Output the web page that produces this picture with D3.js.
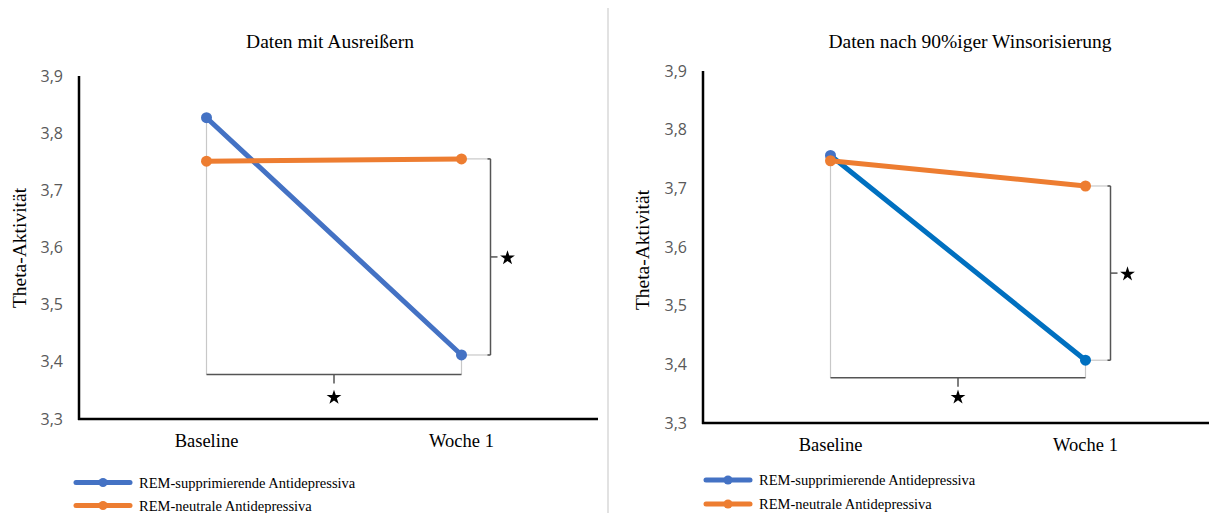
<!DOCTYPE html>
<html>
<head>
<meta charset="utf-8">
<script src="https://cdn.jsdelivr.net/npm/d3@7"></script>
<style>
  html, body { margin: 0; padding: 0; background: #fff; }
  svg { display: block; }
</style>
</head>
<body>
<svg id="chart" width="1209" height="513"></svg>
<script>
// ---------- data ----------
const categories = ["Baseline", "Woche 1"];
const yTicks = [3.3, 3.4, 3.5, 3.6, 3.7, 3.8, 3.9];
const seriesNames = ["REM-supprimierende Antidepressiva", "REM-neutrale Antidepressiva"];
const titles = ["Daten mit Ausreißern", "Daten nach 90%iger Winsorisierung"];
const yLabel = "Theta-Aktivität";

const leftSuppressive = [3.827, 3.412];
const leftNeutral = [3.751, 3.755];
const rightSuppressive = [3.756, 3.407];
const rightNeutral = [3.747, 3.704];
const bracketLevel = [3.378, 3.377];   // value level of the lower significance bracket

// ---------- layout ----------
const svg = d3.select("#chart");
const serif = "'Liberation Serif', 'Times New Roman', serif";
const sans = "'Open Sans', 'Liberation Sans', sans-serif";
const fmt = d => d.toFixed(1).replace(".", ",");

// divider
svg.append("line").attr("x1", 608).attr("x2", 608).attr("y1", 8).attr("y2", 513)
  .attr("stroke", "#d9d9d9").attr("stroke-width", 1.5);

const panels = [
  { x0: 79, xEnd: 598, yTop: 76, yBot: 419, bandRange: [79, 589],
    title: titles[0], titleX: 330, titleY: 48, yLabX: 26, yLabY: 248, xLabY: 447,
    blue: leftSuppressive, orange: leftNeutral, blueLine: "#4472C4", blueDot0: "#4472C4", blueDot1: "#4472C4",
    bracketOff: 29, lvl: bracketLevel[0], starOff: 23,
    legX: 76, legLineW: 54, legY: [482.5, 505.5], legTextX: 139 },
  { x0: 703, xEnd: 1209, yTop: 71, yBot: 423, bandRange: [703, 1213],
    title: titles[1], titleX: 970, titleY: 48, yLabX: 649, yLabY: 250, xLabY: 451,
    blue: rightSuppressive, orange: rightNeutral, blueLine: "#0070C0", blueDot0: "#4472C4", blueDot1: "#0070C0",
    bracketOff: 25, lvl: bracketLevel[1], starOff: 19.5,
    legX: 706, legLineW: 44, legY: [480, 504], legTextX: 759 }
];

const orangeC = "#ED7D31";
const legendBlue = "#4472C4";

panels.forEach(p => {
  const g = svg.append("g");
  const x = d3.scaleBand().domain(categories).range(p.bandRange);
  const cx = c => x(c) + x.bandwidth() / 2;
  const y = d3.scaleLinear().domain([3.3, 3.9]).range([p.yBot, p.yTop]);

  // title
  g.append("text").attr("x", p.titleX).attr("y", p.titleY).attr("text-anchor", "middle")
    .attr("font-family", serif).attr("font-size", 19.5).attr("fill", "#000").text(p.title);

  // y axis label
  g.append("text").attr("transform", `translate(${p.yLabX},${p.yLabY}) rotate(-90)`)
    .attr("text-anchor", "middle").attr("font-family", serif).attr("font-size", 19.5)
    .attr("fill", "#000").text(yLabel);

  // y axis (labels only, line drawn separately)
  const yAxis = d3.axisLeft(y).tickValues(yTicks).tickFormat(fmt).tickSize(0).tickPadding(16);
  const ya = g.append("g").attr("transform", `translate(${p.x0},0)`).call(yAxis);
  ya.select(".domain").remove();
  ya.selectAll("text").attr("font-family", sans).attr("font-size", 16).attr("fill", "#595959");

  // x axis labels
  const xAxis = d3.axisBottom(x).tickSize(0).tickPadding(0);
  const xa = g.append("g").attr("transform", `translate(0,${p.xLabY})`).call(xAxis);
  xa.select(".domain").remove();
  xa.selectAll("text").attr("font-family", serif).attr("font-size", 18.5).attr("fill", "#000")
    .attr("dy", 0).attr("y", 0);

  // axis lines
  g.append("line").attr("x1", p.x0).attr("x2", p.x0).attr("y1", y(3.9)).attr("y2", y(3.3) + 1)
    .attr("stroke", "#000").attr("stroke-width", 2.5);
  g.append("line").attr("x1", p.x0 - 1).attr("x2", p.xEnd).attr("y1", y(3.3)).attr("y2", y(3.3))
    .attr("stroke", "#000").attr("stroke-width", 2.5);

  // significance brackets
  const xb = cx(categories[0]), xw = cx(categories[1]);
  const yl = y(p.lvl);
  const light = "#c8c8c8", dark = "#555";
  g.append("line").attr("x1", xb).attr("x2", xb).attr("y1", y(p.blue[0])).attr("y2", yl)
    .attr("stroke", light).attr("stroke-width", 1.2);
  g.append("line").attr("x1", xw).attr("x2", xw).attr("y1", y(p.blue[1])).attr("y2", yl)
    .attr("stroke", light).attr("stroke-width", 1.2);
  g.append("line").attr("x1", xb).attr("x2", xw).attr("y1", yl).attr("y2", yl)
    .attr("stroke", dark).attr("stroke-width", 1.5);
  const midX = (xb + xw) / 2;
  g.append("line").attr("x1", midX).attr("x2", midX).attr("y1", yl).attr("y2", yl + 9)
    .attr("stroke", dark).attr("stroke-width", 1.5);
  g.append("path").attr("d", d3.symbol(d3.symbolStar, 68)())
    .attr("transform", `translate(${midX},${yl + p.starOff})`).attr("fill", "#000");

  // right bracket
  const xr = xw + p.bracketOff;
  const yo = y(p.orange[1]), yb = y(p.blue[1]);
  g.append("line").attr("x1", xw).attr("x2", xr).attr("y1", yo).attr("y2", yo)
    .attr("stroke", light).attr("stroke-width", 1.2);
  g.append("line").attr("x1", xw).attr("x2", xr).attr("y1", yb).attr("y2", yb)
    .attr("stroke", light).attr("stroke-width", 1.2);
  g.append("line").attr("x1", xr).attr("x2", xr).attr("y1", yo).attr("y2", yb)
    .attr("stroke", dark).attr("stroke-width", 1.5);
  g.append("line").attr("x1", xr - 3).attr("x2", xr).attr("y1", yo).attr("y2", yo)
    .attr("stroke", dark).attr("stroke-width", 1.5);
  g.append("line").attr("x1", xr - 3).attr("x2", xr).attr("y1", yb).attr("y2", yb)
    .attr("stroke", dark).attr("stroke-width", 1.5);
  const midY = (yo + yb) / 2;
  g.append("line").attr("x1", xr).attr("x2", xr + 7).attr("y1", midY).attr("y2", midY)
    .attr("stroke", dark).attr("stroke-width", 1.5);
  g.append("path").attr("d", d3.symbol(d3.symbolStar, 68)())
    .attr("transform", `translate(${xr + 17},${midY + 1})`).attr("fill", "#000");

  // data lines
  const line = d3.line().x((d, i) => cx(categories[i])).y(d => y(d));
  const drawSeries = (vals, lineColor, dotColors) => {
    g.append("path").datum(vals).attr("d", line).attr("fill", "none")
      .attr("stroke", lineColor).attr("stroke-width", 5).attr("stroke-linecap", "round");
    g.selectAll(null).data(vals).enter().append("circle")
      .attr("cx", (d, i) => cx(categories[i])).attr("cy", d => y(d)).attr("r", 5.5)
      .attr("fill", (d, i) => dotColors[i]);
  };
  drawSeries(p.blue, p.blueLine, [p.blueDot0, p.blueDot1]);
  drawSeries(p.orange, orangeC, [orangeC, orangeC]);

  // legend
  const legColors = [legendBlue, orangeC];
  seriesNames.forEach((name, i) => {
    const ly = p.legY[i];
    g.append("line").attr("x1", p.legX).attr("x2", p.legX + p.legLineW).attr("y1", ly).attr("y2", ly)
      .attr("stroke", legColors[i]).attr("stroke-width", 5).attr("stroke-linecap", "round");
    g.append("circle").attr("cx", p.legX + p.legLineW / 2).attr("cy", ly).attr("r", 4.5)
      .attr("fill", legColors[i]);
    g.append("text").attr("x", p.legTextX).attr("y", ly + 5).attr("font-family", serif)
      .attr("font-size", 14.5).attr("fill", "#000").text(name);
  });
});
</script>
</body>
</html>
